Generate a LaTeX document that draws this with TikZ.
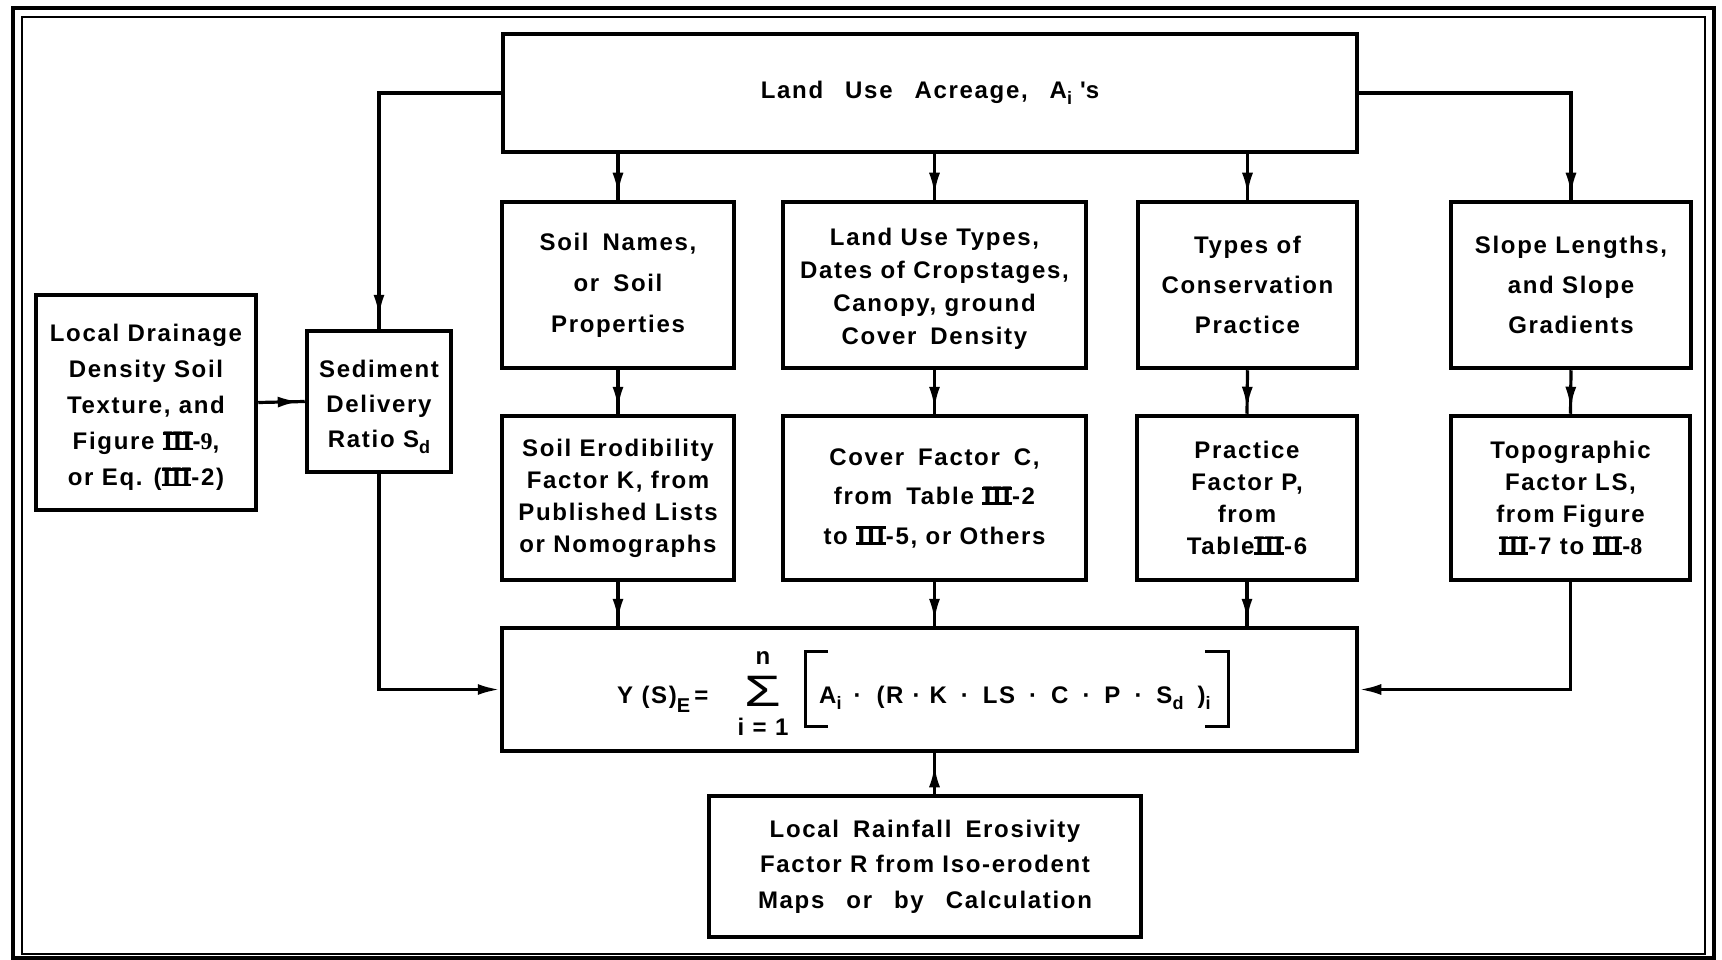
\documentclass[tikz,border=0pt]{standalone}
\usepackage{fontspec}
\usepackage{graphicx}
\setmainfont{Liberation Sans}[LetterSpace=7]
\newfontfamily\romfont{Liberation Serif}[LetterSpace=-3,Scale=1.12]
\newfontfamily\digfont{Liberation Serif}
\usetikzlibrary{arrows.meta,decorations.markings}
\newsavebox\rnbox
\newcommand\RIII{\sbox\rnbox{\romfont\bfseries III}\rlap{\rule[-0.02em]{\wd\rnbox}{0.11em}}\rlap{\rule[\dimexpr\ht\rnbox-0.11em\relax]{\wd\rnbox}{0.11em}}\usebox\rnbox}
\newcommand\wsp{\hspace{14pt}}
\newcommand\lsub[1]{\raisebox{-6pt}{\fontsize{18}{18}\selectfont #1}}
\begin{document}
\begin{tikzpicture}[x=1pt,y=-1pt,
  box/.style={draw, line width=4.5pt, inner sep=0pt, align=center, font=\bfseries\fontsize{24}{33}\selectfont},
  boxtext/.style={inner sep=0pt, align=center, font=\bfseries\fontsize{24}{33}\selectfont},
  ftext/.style={inner sep=0pt, font=\bfseries\fontsize{24}{28}\selectfont},
  flow/.style={line width=3.2pt, postaction={decorate}, decoration={markings, mark=at position -#1 with {\arrow{Latex[length=22pt,width=11pt]}}}},
  flow/.default=5pt,
  flowend/.style={line width=3.2pt, -{Latex[length=22pt,width=11pt]}}
]
\fill[white] (0,0) rectangle (1722,960);
\useasboundingbox (0,0) rectangle (1722,960);
% frame
\draw[line width=3.5pt] (13,8) rectangle (1714,958);
\draw[line width=2pt] (22,17) rectangle (1705,954);
% boxes
\node[box, minimum width=854pt, minimum height=118pt] (land) at (930,93)
  {Land\hspace{22pt}Use\hspace{22pt}Acreage,\hspace{22pt}A\lsub{i}\hspace{8pt}\textquotesingle s};
\node[box, minimum width=232pt, minimum height=166pt, font=\bfseries\fontsize{24}{41}\selectfont] (soilN) at (618,285)
  {Soil\wsp Names,\\or\wsp Soil\\Properties};
\node[box, minimum width=303pt, minimum height=166pt] (luT) at (934.5,285) {};
\node[boxtext] (luTt) at ([yshift=-4pt]luT.center)
  {Land Use Types,\\Dates of Cropstages,\\Canopy, ground\\Cover\wsp Density};
\node[box, minimum width=219pt, minimum height=166pt, font=\bfseries\fontsize{24}{40}\selectfont] (cons) at (1247.5,285)
  {Types of\\Conservation\\Practice};
\node[box, minimum width=240pt, minimum height=166pt, font=\bfseries\fontsize{24}{40}\selectfont] (slope) at (1571,285)
  {Slope Lengths,\\and Slope\\Gradients};
\node[box, minimum width=232pt, minimum height=164pt, font=\bfseries\fontsize{24}{32}\selectfont] (soilE) at (618,498)
  {Soil Erodibility\\Factor K, from\\Published Lists\\or Nomographs};
\node[box, minimum width=303pt, minimum height=164pt, font=\bfseries\fontsize{24}{39.5}\selectfont] (cover) at (934.5,498)
  {Cover\wsp Factor\wsp C,\\from\wsp Table \RIII-2\\to \RIII-5, or Others};
\node[box, minimum width=220pt, minimum height=164pt, font=\bfseries\fontsize{24}{32}\selectfont] (pract) at (1247,498)
  {Practice\\Factor P,\\from\\Table\RIII-6};
\node[box, minimum width=239pt, minimum height=164pt, font=\bfseries\fontsize{24}{32}\selectfont] (topo) at (1570.5,498)
  {Topographic\\Factor LS,\\from Figure\\\RIII-7 to \RIII-{\digfont 8}};
\node[box, minimum width=220pt, minimum height=215pt] (drain) at (146,402.5) {};
\node[boxtext, font=\bfseries\fontsize{24}{36}\selectfont] (draint) at ([yshift=-5pt]drain.center)
  {Local Drainage\\Density Soil\\Texture, and\\Figure \RIII-{\digfont 9},\\or Eq. (\RIII-2)};
\node[box, minimum width=144pt, minimum height=141pt] (sed) at (379,401.5) {};
\node[boxtext, font=\bfseries\fontsize{24}{35}\selectfont] (sedt) at ([yshift=-5pt]sed.center)
  {Sediment\\Delivery\\Ratio S\lsub{d}};
\node[box, minimum width=432pt, minimum height=141pt, font=\bfseries\fontsize{24}{35.5}\selectfont] (rain) at (925,866.5)
  {Local\wsp Rainfall\wsp Erosivity\\Factor R from Iso-erodent\\Maps\hspace{22pt}or\hspace{22pt}by\hspace{22pt}Calculation};
\node[box, minimum width=855pt, minimum height=123pt] (eq) at (929.5,689.5) {};
% formula
\node[ftext, anchor=base west] (yse) at (617,703) {Y (S)\raisebox{-9pt}{\fontsize{20}{20}\selectfont E}\,=};
\node[ftext, font=\fontsize{44}{44}\selectfont] (sig) at (763,691) {\scalebox{1.35}[1]{Σ}};
\node[ftext] (supn) at (763,658) {n};
\node[ftext] (subi) at (763,727) {i = 1};
\node[ftext, anchor=base west] (cont) at (819,703)
  {A\lsub{i}\hspace{12pt}·\hspace{15pt}(R\hspace{9pt}·\hspace{9pt}K\hspace{14pt}·\hspace{14pt}LS\hspace{14pt}·\hspace{14pt}C\hspace{14pt}·\hspace{14pt}P\hspace{14pt}·\hspace{14pt}S\lsub{d}\hspace{14pt})\lsub{i}};
\draw[line width=3pt] (828,651) -- (805,651) -- (805,726) -- (828,726);
\draw[line width=3pt] (1205,651) -- (1228,651) -- (1228,726) -- (1205,726);
% connectors
\draw[flow=12pt] (land.west) -| (sed.north);
\draw[flow] (land.east) -| (slope.north);
\draw[flow] (land.south -| soilN.north) -- (soilN.north);
\draw[flow] (land.south -| luT.north) -- (luT.north);
\draw[flow] (land.south -| cons.north) -- (cons.north);
\draw[flow] (soilN.south) -- (soilE.north);
\draw[flow] (luT.south) -- (cover.north);
\draw[flow] (cons.south) -- (pract.north);
\draw[flow] (slope.south) -- (topo.north);
\draw[flow] (soilE.south) -- (soilE.south |- eq.north);
\draw[flow] (cover.south) -- (cover.south |- eq.north);
\draw[flow] (pract.south) -- (pract.south |- eq.north);
\draw[flowend] (topo.south) |- (eq.east);
\draw[flowend] (sed.south) |- (eq.west);
\draw[flow] (drain.east) -- (sed.west);
\draw[flow=12pt] (rain.north -| luT.south) -- (eq.south -| luT.south);
\end{tikzpicture}
\end{document}
